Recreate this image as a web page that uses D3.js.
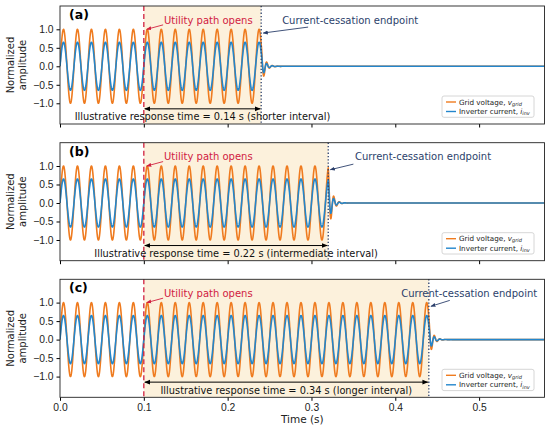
<!DOCTYPE html>
<html><head><meta charset="utf-8">
<script src="https://cdn.jsdelivr.net/npm/d3@7"></script>
<style>body{margin:0;background:#fff} svg{font-family:"DejaVu Sans",sans-serif;display:block}</style>
</head><body><svg id="c" width="550" height="429"></svg>
<script>
// ---- data ----
const panelLabels = ["(a)", "(b)", "(c)"];
const openTime = 0.1;
const cessationTimes = [0.24, 0.32, 0.44];
const responseTimes = ["0.14", "0.22", "0.34"];
const intervalNames = ["shorter interval", "intermediate interval", "longer interval"];
const cessLabelTimes = [0.265, 0.352, 0.407];
const cessArrowTailT = [0.296, 0.350, 0.465];
const cessArrowTailV = [1.06, 1.05, 1.06];
const gridFreq = 60;              // Hz
const seriesAmps = [1.0, 0.65];   // grid voltage, inverter current
const seriesColors = ["#ef7b1f", "#2386cc"];
const decayFreq = 150, decayTau = 0.004;
const xTicks = [0, 0.1, 0.2, 0.3, 0.4, 0.5];
const yTicks = [-1, -0.5, 0, 0.5, 1];
const xDomain = [0, 0.578];
const yDomain = [-1.56, 1.63];

// ---- layout ----
const svg = d3.select("#c");
const left = 60, right = 544.5, ph = 118;
const tops = [6, 142.7, 279.3];
const x = d3.scaleLinear().domain(xDomain).range([left, right]);
const red = "#d1203f", navy = "#2b3f6b";

const defs = svg.append("defs");
function marker(id, color, size) {
  defs.append("marker").attr("id", id).attr("viewBox", "0 0 10 10")
    .attr("refX", 9).attr("refY", 5).attr("markerWidth", size).attr("markerHeight", size)
    .attr("markerUnits", "userSpaceOnUse").attr("orient", "auto-start-reverse")
    .append("path").attr("d", "M0,1 L10,5 L0,9 Z").attr("fill", color);
}
marker("mBlack", "#000", 6);
marker("mRed", red, 5);
marker("mNavy", navy, 5);

function wave(t, amp, te) {
  if (t <= te) return amp * Math.sin(2 * Math.PI * gridFreq * t);
  const y0 = amp * Math.sin(2 * Math.PI * gridFreq * te);
  const dt = t - te;
  return y0 * Math.exp(-dt / decayTau) * Math.cos(2 * Math.PI * decayFreq * dt);
}
const times = d3.range(0, xDomain[1] + 1e-9, 0.0002);

panelLabels.forEach((lab, k) => {
  const top = tops[k];
  const y = d3.scaleLinear().domain(yDomain).range([top + ph, top]);
  const g = svg.append("g");
  const te = cessationTimes[k];
  const clipId = "clip" + k;
  defs.append("clipPath").attr("id", clipId).append("rect")
    .attr("x", left).attr("y", top).attr("width", right - left).attr("height", ph);

  // shaded interval
  g.append("rect").attr("x", x(openTime)).attr("y", top)
    .attr("width", x(te) - x(openTime)).attr("height", ph).attr("fill", "#fcf1dc");

  // waveforms
  const line = d3.line().x(d => x(d[0])).y(d => y(d[1]));
  seriesAmps.forEach((a, s) => {
    g.append("path").attr("clip-path", `url(#${clipId})`)
      .datum(times.map(t => [t, wave(t, a, te)]))
      .attr("d", line).attr("fill", "none").attr("stroke", seriesColors[s])
      .attr("stroke-width", 1.6).attr("stroke-linejoin", "round");
  });

  // vertical lines
  g.append("line").attr("x1", x(openTime)).attr("x2", x(openTime)).attr("y1", top).attr("y2", top + ph)
    .attr("stroke", red).attr("stroke-width", 1.3).attr("stroke-dasharray", "5,3");
  g.append("line").attr("x1", x(te)).attr("x2", x(te)).attr("y1", top).attr("y2", top + ph)
    .attr("stroke", navy).attr("stroke-width", 1.3).attr("stroke-dasharray", "1.3,2");

  // axes
  g.append("g").attr("transform", `translate(0,${top + ph})`)
    .call(d3.axisBottom(x).tickValues(xTicks).tickSize(3.5).tickPadding(2.5).tickFormat(k === 2 ? d3.format(".1f") : ""))
    .call(a => a.select(".domain").remove())
    .call(a => a.selectAll("text").attr("font-size", 10.3).attr("fill", "#222"));
  g.append("g").attr("transform", `translate(${left},0)`)
    .call(d3.axisLeft(y).tickValues(yTicks).tickSize(3.5).tickPadding(3).tickFormat(d => d3.format(".1f")(d).replace("-", "\u2212")))
    .call(a => a.select(".domain").remove())
    .call(a => a.selectAll("text").attr("font-size", 10.3).attr("fill", "#222"));
  g.append("rect").attr("x", left).attr("y", top).attr("width", right - left).attr("height", ph)
    .attr("fill", "none").attr("stroke", "#222").attr("stroke-width", 0.9);

  // panel label
  g.append("text").attr("x", left + 9).attr("y", top + 13).attr("font-size", 12.5)
    .attr("font-weight", "bold").text(lab);

  // y label
  const cy = top + ph / 2;
  const yl = g.append("text").attr("transform", `translate(16,${cy}) rotate(-90)`)
    .attr("text-anchor", "middle").attr("font-size", 10).attr("fill", "#222");
  yl.append("tspan").attr("x", 0).attr("dy", "-0.25em").text("Normalized");
  yl.append("tspan").attr("x", 0).attr("dy", "1.2em").text("amplitude");

  // utility path annotation
  g.append("text").attr("x", x(0.124)).attr("y", y(1.25)).attr("dy", "0.35em")
    .attr("font-size", 10).attr("fill", red).text("Utility path opens");
  g.append("line").attr("x1", x(0.123)).attr("y1", y(1.12)).attr("x2", x(0.1035)).attr("y2", y(1.0))
    .attr("stroke", red).attr("stroke-width", 0.9).attr("marker-end", "url(#mRed)");

  // cessation annotation
  g.append("text").attr("x", x(cessLabelTimes[k])).attr("y", y(1.25)).attr("dy", "0.35em")
    .attr("font-size", 10).attr("fill", navy).text("Current-cessation endpoint");
  g.append("line").attr("x1", x(cessArrowTailT[k])).attr("y1", y(cessArrowTailV[k]))
    .attr("x2", x(te + 0.0025)).attr("y2", y(0.9))
    .attr("stroke", navy).attr("stroke-width", 0.9).attr("marker-end", "url(#mNavy)");

  // response interval arrow
  g.append("line").attr("x1", x(openTime) + 1).attr("x2", x(te) - 1).attr("y1", y(-1.15)).attr("y2", y(-1.15))
    .attr("stroke", "#000").attr("stroke-width", 1)
    .attr("marker-start", "url(#mBlack)").attr("marker-end", "url(#mBlack)");
  g.append("text").attr("x", x((openTime + te) / 2)).attr("y", y(-1.37)).attr("dy", "0.35em")
    .attr("text-anchor", "middle").attr("font-size", 9.8).attr("fill", "#111")
    .text(`Illustrative response time = ${responseTimes[k]} s (${intervalNames[k]})`);

  // legend
  const lx = 442, ly = top + 90;
  g.append("rect").attr("x", lx).attr("y", ly).attr("width", 92).attr("height", 21.3)
    .attr("rx", 2).attr("fill", "#fff").attr("fill-opacity", 0.85).attr("stroke", "#ccc").attr("stroke-width", 0.8);
  const entries = [["Grid voltage, ", "v", "grid"], ["Inverter current, ", "i", "inv"]];
  entries.forEach((e, j) => {
    const ey = ly + 6 + j * 9.5;
    g.append("line").attr("x1", lx + 4).attr("x2", lx + 14).attr("y1", ey).attr("y2", ey)
      .attr("stroke", seriesColors[j]).attr("stroke-width", 1.4);
    const t = g.append("text").attr("x", lx + 17).attr("y", ey).attr("dy", "0.35em")
      .attr("font-size", 7.2).attr("fill", "#222");
    t.append("tspan").text(e[0]);
    t.append("tspan").attr("font-style", "italic").text(e[1]);
    t.append("tspan").attr("font-style", "italic").attr("font-size", 5).attr("dy", "0.25em").text(e[2]);
  });
});

svg.append("text").attr("x", (left + right) / 2).attr("y", 423).attr("text-anchor", "middle")
  .attr("font-size", 10.5).attr("fill", "#222").text("Time (s)");
</script></body></html>
